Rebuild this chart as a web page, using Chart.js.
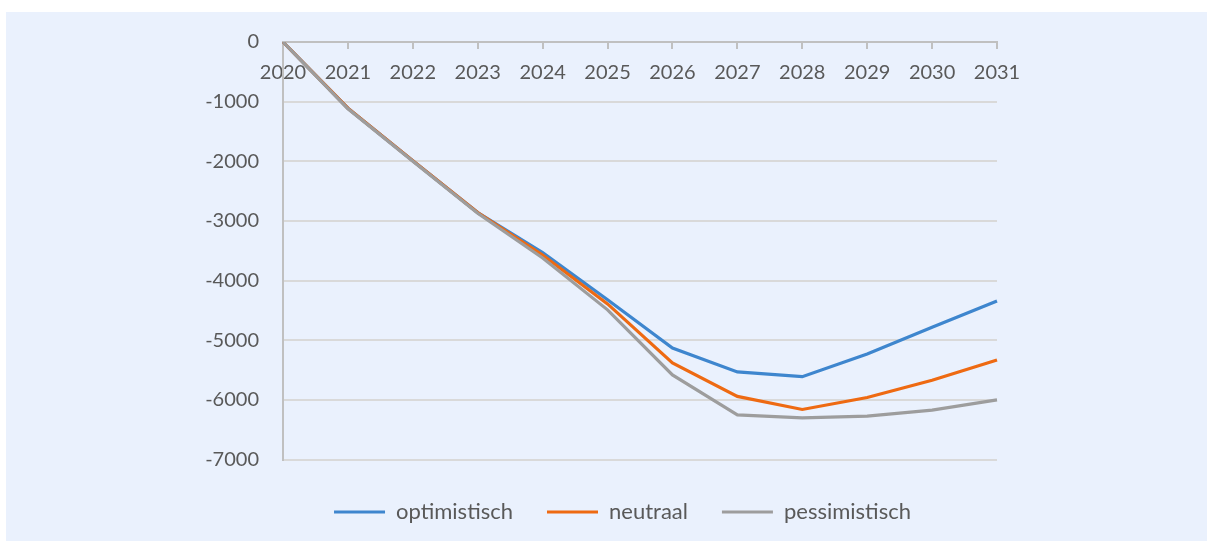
<!DOCTYPE html>
<html>
<head>
<meta charset="utf-8">
<script src="https://cdn.jsdelivr.net/npm/chart.js@4/dist/chart.umd.min.js"></script>
<style>
  html, body { margin: 0; padding: 0; background: #ffffff; }
  #panel { position: absolute; left: 6px; top: 12px; width: 1201px; height: 529px; background: #eaf1fd; }
  #wrap { position: absolute; left: 0; top: 0; width: 1211px; height: 541px; }
</style>
</head>
<body>
<div id="panel"></div>
<div id="wrap"><canvas id="lineChart"></canvas></div>
<script>
// Chart data
const years = ["2020", "2021", "2022", "2023", "2024", "2025", "2026", "2027", "2028", "2029", "2030", "2031"];
const optimistisch = [0, -1110, -1990, -2860, -3530, -4320, -5130, -5530, -5610, -5230, -4780, -4340];
const neutraal = [0, -1110, -1990, -2860, -3570, -4390, -5380, -5940, -6160, -5960, -5670, -5330];
const pessimistisch = [0, -1120, -2000, -2870, -3620, -4490, -5580, -6250, -6300, -6270, -6170, -6000];
const yMin = -7000;
const yMax = 0;
const yStep = 1000;

const textColor = "#595959";
const axisColor = "#c0c0c0";
const gridColor = "#d9d9d9";

// gray first so it is painted on top, legend reversed below
const datasets = [
  { label: "pessimistisch", data: pessimistisch, borderColor: "#9d9d9d", backgroundColor: "#9d9d9d" },
  { label: "neutraal", data: neutraal, borderColor: "#ee6a12", backgroundColor: "#ee6a12" },
  { label: "optimistisch", data: optimistisch, borderColor: "#3e86ce", backgroundColor: "#3e86ce" }
].map(ds => ({ ...ds, borderWidth: 3.2, pointRadius: 0, tension: 0, fill: false }));

const chartCanvas = document.getElementById("lineChart");
new Chart(chartCanvas, {
  type: "line",
  data: { labels: years, datasets: datasets },
  options: {
    responsive: true,
    maintainAspectRatio: false,
    animation: false,
    layout: { padding: { top: 42, left: 34, right: 0, bottom: 8 } },
    scales: {
      x: {
        position: { y: 0 },
        offset: false,
        grid: { display: true, drawOnChartArea: false, drawTicks: true, tickLength: 6, color: axisColor, lineWidth: 2 },
        border: { display: true, color: axisColor, width: 2 },
        ticks: {
          color: textColor,
          font: { family: "Lato", size: 20 },
          padding: 13,
          autoSkip: false,
          maxRotation: 0
        }
      },
      y: {
        min: yMin,
        max: yMax,
        grid: { color: gridColor, lineWidth: 2, drawTicks: false },
        border: { display: true, color: axisColor, width: 2 },
        ticks: {
          stepSize: yStep,
          color: textColor,
          font: { family: "Lato", size: 20 },
          padding: 24,
          callback: (value) => String(value)
        },
        afterFit: (scale) => { scale.width = 249; }
      },
      yRight: {
        position: "right",
        display: true,
        grid: { display: false, drawTicks: false },
        border: { display: false },
        ticks: { display: false },
        afterFit: (scale) => { scale.width = 214; }
      }
    },
    plugins: {
      tooltip: { enabled: false },
      legend: {
        display: true,
        position: "bottom",
        reverse: true,
        title: { display: true, text: " ", font: { size: 2 }, padding: { top: 5, bottom: 0 } },
        labels: {
          color: textColor,
          font: { family: "Lato", size: 22 },
          boxWidth: 51,
          boxHeight: 3,
          padding: 34,
          generateLabels: (chart) =>
            Chart.defaults.plugins.legend.labels.generateLabels(chart).map(item => ({
              ...item,
              fillStyle: item.strokeStyle,
              lineWidth: 0
            }))
        }
      }
    }
  }
});
</script>
</body>
</html>
